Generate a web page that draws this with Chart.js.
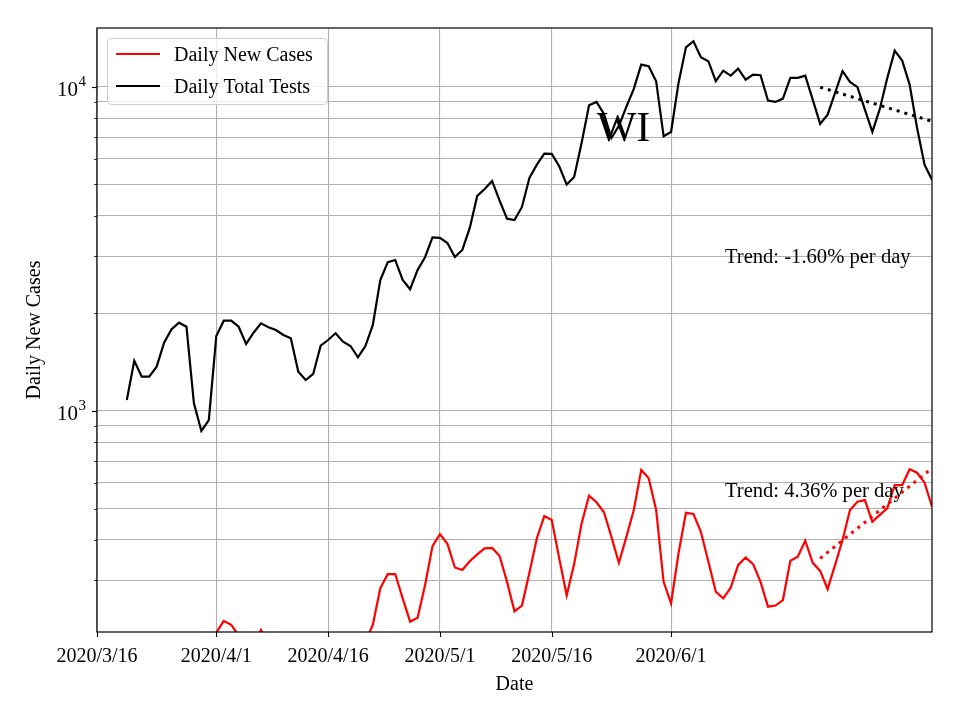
<!DOCTYPE html>
<html><head><meta charset="utf-8">
<script src="https://cdn.jsdelivr.net/npm/chart.js@4.4.1/dist/chart.umd.min.js"></script>
<style>html,body{margin:0;padding:0;background:#fff}canvas{display:block}</style>
</head><body>
<canvas id="c" width="960" height="720"></canvas>
<script>
// x = days since 2020/3/16
const firstDay = 4;
const testValues = [
  1081,1429,1276,1276,1370,1625,1787,1873,1820,1056,
  868,938,1704,1900,1900,1820,1610,1744,1865,1813,
  1778,1716,1676,1322,1246,1301,1591,1656,1737,1636,
  1587,1464,1587,1843,2537,2877,2924,2537,2375,2724,
  2982,3432,3420,3300,2988,3140,3671,4609,4844,5128,
  4458,3922,3886,4263,5238,5757,6225,6212,5691,4995,
  5276,6716,8780,8989,8255,6959,7579,8675,9858,11720,
  11585,10414,7043,7262,10288,13245,13836,12352,12005,10414,
  11226,10837,11387,10532,10914,10867,9073,8989,9204,10662,
  10662,10837,9139,7688,8214,9582,11179,10361,9979,8512,
  7262,8555,10662,12942,12056,10165,7472,5757,5175
];
const caseValues = [
  55,75,100,135,140,165,150,160,190,170,
  185,190,207,225,219,203,185,188,211,190,
  180,195,185,170,160,175,190,200,185,175,
  165,180,194,219,284,314,314,264,224,230,
  290,383,417,389,329,323,344,361,377,378,
  357,297,241,251,317,405,474,461,351,270,
  337,450,548,523,487,409,340,408,495,658,
  620,495,297,255,364,485,481,424,343,277,
  264,285,335,353,337,297,249,251,261,345,
  355,398,340,321,282,335,400,495,525,531,
  455,478,501,591,591,661,645,601,507
];
const trendDays = [97, 112];
const testTrendValues = [9980, 7835];
const caseTrendValues = [351, 666];
const xTickDays = [0, 16, 31, 46, 61, 77];
const xTickLabels = ['2020/3/16', '2020/4/1', '2020/4/16', '2020/5/1', '2020/5/16', '2020/6/1'];
const yTickValues = [300,400,500,600,700,800,900,1000,2000,3000,4000,5000,6000,7000,8000,9000,10000];
const yMajorTicks = [1000, 10000];
const yMajorBase = ['10', '10'];
const yMajorExp = ['3', '4'];
const seriesLabels = ['Daily New Cases', 'Daily Total Tests'];
const stateLabel = 'WI';
const testTrendText = 'Trend: -1.60% per day';
const caseTrendText = 'Trend: 4.36% per day';

const FONT = '"Liberation Serif", "Times New Roman", serif';
const toPts = (vals) => vals.map((v, i) => ({x: firstDay + i, y: v}));
const trendPts = (vals) => vals.map((v, i) => ({x: trendDays[i], y: v}));

const decor = {
  id: 'decor',
  afterDraw(chart) {
    const {ctx, chartArea: a, scales: {x, y}} = chart;
    const w = a.right - a.left, h = a.bottom - a.top;
    ctx.save();
    ctx.strokeStyle = '#000';
    // y tick marks
    yTickValues.forEach(v => {
      const py = Math.round(y.getPixelForValue(v)) + 0.5;
      const major = yMajorTicks.includes(v);
      ctx.lineWidth = major ? 1.1 : 0.8;
      const len = major ? 5 : 3;
      ctx.beginPath(); ctx.moveTo(a.left - len, py); ctx.lineTo(a.left, py); ctx.stroke();
    });
    // y major labels (10 with superscript exponent)
    ctx.fillStyle = '#000';
    ctx.textBaseline = 'alphabetic';
    yMajorTicks.forEach((v, i) => {
      const py = y.getPixelForValue(v);
      ctx.font = '21px ' + FONT;
      ctx.textAlign = 'right';
      ctx.fillText(yMajorBase[i], a.left - 19, py + 9);
      ctx.font = '15px ' + FONT;
      ctx.textAlign = 'left';
      ctx.fillText(yMajorExp[i], a.left - 18.5, py - 1);
    });
    // x tick marks
    xTickDays.forEach(d => {
      const px = Math.round(x.getPixelForValue(d)) + 0.5;
      ctx.lineWidth = 1.1;
      ctx.beginPath(); ctx.moveTo(px, a.bottom); ctx.lineTo(px, a.bottom + 5); ctx.stroke();
    });
    // frame
    ctx.lineWidth = 1.2;
    ctx.strokeRect(a.left, a.top, w, h);
    // annotations
    ctx.fillStyle = '#000';
    ctx.textBaseline = 'alphabetic';
    ctx.font = '42px ' + FONT;
    ctx.textAlign = 'center';
    ctx.fillText(stateLabel, a.left + 0.6305 * w, a.top + 0.187 * h);
    ctx.font = '20.6px ' + FONT;
    ctx.textAlign = 'left';
    ctx.fillText(testTrendText, a.left + 0.752 * w, a.top + 0.389 * h);
    ctx.fillText(caseTrendText, a.left + 0.752 * w, a.top + 0.7765 * h);
    // legend
    const lx = a.left + 10.5, ly = a.top + 10.5, lw = 220, lh = 66, r = 4;
    ctx.beginPath();
    ctx.moveTo(lx + r, ly); ctx.lineTo(lx + lw - r, ly); ctx.quadraticCurveTo(lx + lw, ly, lx + lw, ly + r);
    ctx.lineTo(lx + lw, ly + lh - r); ctx.quadraticCurveTo(lx + lw, ly + lh, lx + lw - r, ly + lh);
    ctx.lineTo(lx + r, ly + lh); ctx.quadraticCurveTo(lx, ly + lh, lx, ly + lh - r);
    ctx.lineTo(lx, ly + r); ctx.quadraticCurveTo(lx, ly, lx + r, ly);
    ctx.closePath();
    ctx.fillStyle = 'rgba(255,255,255,0.8)';
    ctx.fill();
    ctx.strokeStyle = '#cccccc';
    ctx.lineWidth = 1;
    ctx.stroke();
    const ds = chart.data.datasets;
    [0, 1].forEach((k) => {
      const yy = a.top + 26 + k * 32;
      ctx.strokeStyle = ds[k].borderColor;
      ctx.lineWidth = 2.2;
      ctx.beginPath(); ctx.moveTo(a.left + 19, yy); ctx.lineTo(a.left + 63, yy); ctx.stroke();
      ctx.fillStyle = '#000';
      ctx.font = '20px ' + FONT;
      ctx.fillText(ds[k].label, a.left + 77, yy + 7);
    });
    ctx.restore();
  }
};

new Chart(document.getElementById('c'), {
  type: 'line',
  data: {
    datasets: [
      {label: seriesLabels[0], data: toPts(caseValues), borderColor: '#ff0000', borderWidth: 2.2, pointRadius: 0, tension: 0, fill: false},
      {label: seriesLabels[1], data: toPts(testValues), borderColor: '#000000', borderWidth: 2.2, pointRadius: 0, tension: 0, fill: false},
      {label: 'trend1', data: trendPts(testTrendValues), borderColor: '#000000', borderWidth: 3, borderDash: [3, 5], borderCapStyle: 'butt', pointRadius: 0, fill: false},
      {label: 'trend2', data: trendPts(caseTrendValues), borderColor: '#ff0000', borderWidth: 3, borderDash: [3, 5], borderCapStyle: 'butt', pointRadius: 0, fill: false}
    ]
  },
  options: {
    responsive: false,
    animation: false,
    devicePixelRatio: 1,
    layout: {padding: {top: 28, right: 28, left: 0, bottom: 0}},
    plugins: {legend: {display: false}, tooltip: {enabled: false}},
    scales: {
      x: {
        type: 'linear', min: 0, max: 112,
        afterBuildTicks: (s) => { s.ticks = xTickDays.map(v => ({value: v})); },
        afterFit: (s) => { s.height = 88; },
        ticks: {
          autoSkip: false, maxRotation: 0, padding: 13,
          color: '#000', font: {family: FONT, size: 20},
          callback: (v) => { const i = xTickDays.indexOf(v); return i >= 0 ? xTickLabels[i] : ''; }
        },
        grid: {color: '#b0b0b0', lineWidth: 1.1, drawTicks: false},
        border: {display: false},
        title: {display: true, text: 'Date', color: '#000', font: {family: FONT, size: 20}, padding: {top: 4, bottom: 23}}
      },
      y: {
        type: 'logarithmic', min: 208, max: 15200,
        afterBuildTicks: (s) => { s.ticks = yTickValues.map(v => ({value: v})); },
        afterFit: (s) => { s.width = 97; },
        ticks: {
          autoSkip: false, padding: 10,
          color: '#000', font: {family: FONT, size: 20},
          callback: () => ''
        },
        grid: {color: '#b0b0b0', lineWidth: 1.1, drawTicks: false},
        border: {display: false},
        title: {display: true, text: 'Daily New Cases', color: '#000', font: {family: FONT, size: 20}, padding: {top: 23, bottom: 0}}
      }
    }
  },
  plugins: [decor]
});
</script>
</body></html>
